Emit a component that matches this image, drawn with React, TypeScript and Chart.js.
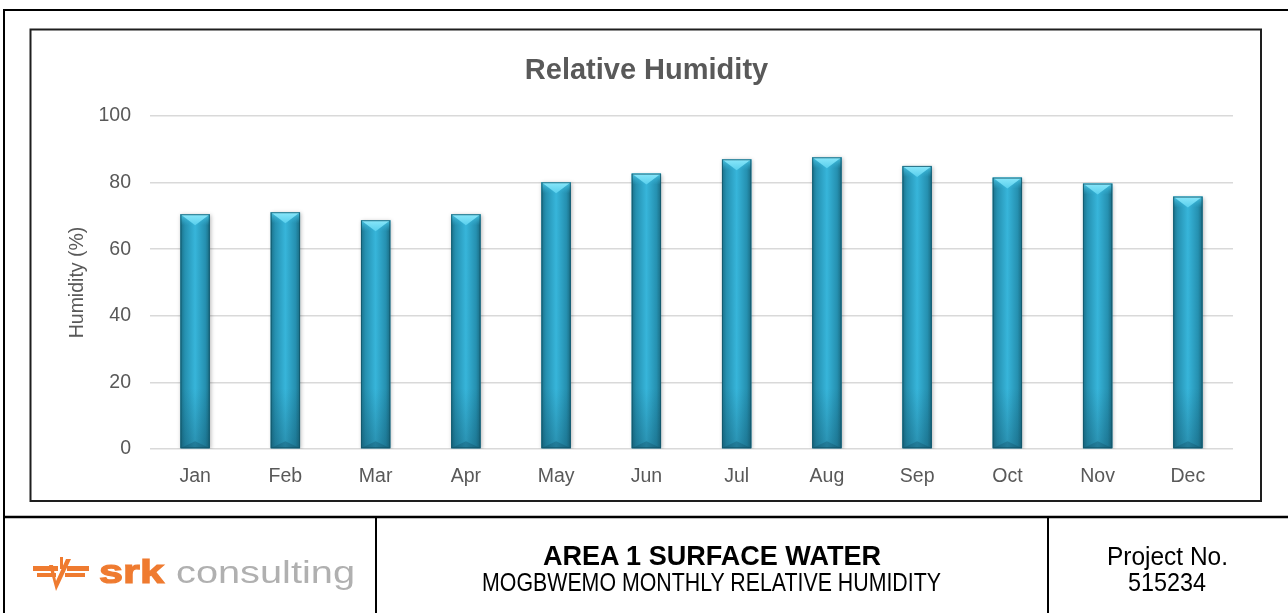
import React, { useEffect, useRef } from 'react';
import { Chart, registerables } from 'chart.js';

Chart.register(...registerables);

const months = ['Jan', 'Feb', 'Mar', 'Apr', 'May', 'Jun', 'Jul', 'Aug', 'Sep', 'Oct', 'Nov', 'Dec'];
const humidity = [70.5, 71.1, 68.7, 70.5, 80.1, 82.7, 87.0, 87.6, 85.0, 81.5, 79.7, 75.8];
const yMin = 0;
const yMax = 100;
const yStep = 20;

const chartTitle = 'Relative Humidity';
const yAxisTitle = 'Humidity (%)';
const footerTitle = 'AREA 1 SURFACE WATER';
const footerSubtitle = 'MOGBWEMO MONTHLY RELATIVE HUMIDITY';
const projectLabel = 'Project No.';
const projectNumber = '515234';
const logoBold = 'srk';
const logoLight = 'consulting';

const FONT = "'Liberation Sans', Arial, Helvetica, sans-serif";

const barDecor = {
  id: 'barDecor',
  beforeDatasetsDraw(chart: any) {
    const ctx = chart.ctx;
    ctx.save();
    ctx.shadowColor = 'rgba(0,0,0,0.28)';
    ctx.shadowBlur = 4;
    ctx.shadowOffsetX = 1;
    ctx.shadowOffsetY = 1;
  },
  afterDatasetsDraw(chart: any) {
    const ctx = chart.ctx;
    ctx.restore();
    const meta = chart.getDatasetMeta(0);
    meta.data.forEach((bar: any) => {
      const { x, y, base, width } = bar.getProps(['x', 'y', 'base', 'width'], true);
      const l = x - width / 2;
      const r = x + width / 2;
      const h = base - y;
      ctx.save();
      const g = ctx.createLinearGradient(l, 0, r, 0);
      g.addColorStop(0, '#1b7189');
      g.addColorStop(0.15, '#2590b0');
      g.addColorStop(0.5, '#37b5da');
      g.addColorStop(0.85, '#2590b0');
      g.addColorStop(1, '#1a6b82');
      ctx.fillStyle = g;
      ctx.fillRect(l, y, width, h);
      const gb = ctx.createLinearGradient(0, base - 60, 0, base);
      gb.addColorStop(0, 'rgba(10,60,80,0)');
      gb.addColorStop(1, 'rgba(10,60,80,0.3)');
      ctx.fillStyle = gb;
      ctx.fillRect(l, base - 60, width, 60);
      const bev = Math.min(11, h / 2);
      // upper side faces
      const gs = ctx.createLinearGradient(0, y, 0, y + bev);
      gs.addColorStop(0, 'rgba(80,205,235,0.9)');
      gs.addColorStop(1, 'rgba(55,181,218,0)');
      ctx.fillStyle = gs;
      ctx.fillRect(l, y, width, bev);
      // top bevel triangle
      ctx.beginPath();
      ctx.moveTo(l, y);
      ctx.lineTo(r, y);
      ctx.lineTo(x, y + bev);
      ctx.closePath();
      const gt = ctx.createLinearGradient(0, y, 0, y + bev);
      gt.addColorStop(0, '#8ae7fa');
      gt.addColorStop(1, '#58cfed');
      ctx.fillStyle = gt;
      ctx.fill();
      // bottom bevel
      ctx.beginPath();
      ctx.moveTo(l, base);
      ctx.lineTo(r, base);
      ctx.lineTo(x, base - 7);
      ctx.closePath();
      ctx.fillStyle = 'rgba(10,60,80,0.25)';
      ctx.fill();
      ctx.strokeStyle = 'rgba(18,85,105,0.8)';
      ctx.lineWidth = 1;
      ctx.strokeRect(l + 0.5, y + 0.5, width - 1, h - 1);
      ctx.restore();
    });
  },
};

function HumidityChart() {
  const ref = useRef<HTMLCanvasElement | null>(null);
  useEffect(() => {
    if (!ref.current) return;
    const chart = new Chart(ref.current, {
      type: 'bar',
      data: {
        labels: months,
        datasets: [
          {
            data: humidity,
            backgroundColor: '#2ba3c6',
            borderWidth: 0,
            categoryPercentage: 1,
            barPercentage: 0.325,
          },
        ],
      },
      options: {
        responsive: false,
        animation: false,
        layout: { padding: { left: 0, right: 27, top: 0, bottom: 0 } },
        plugins: {
          legend: { display: false },
          tooltip: { enabled: false },
          title: {
            display: true,
            text: chartTitle,
            color: '#595959',
            font: { family: FONT, size: 29, weight: 'bold' },
            padding: { top: 23.2, bottom: 28 },
          },
        },
        scales: {
          x: {
            grid: { display: false, drawTicks: false },
            border: { display: false },
            ticks: { color: '#595959', font: { family: FONT, size: 19.5 }, padding: 16 },
            afterFit: (s: any) => {
              s.height = 51;
            },
          },
          y: {
            min: yMin,
            max: yMax,
            ticks: { stepSize: yStep, color: '#595959', font: { family: FONT, size: 19.5 }, padding: 19 },
            grid: { color: '#d9d9d9', lineWidth: 1.6, drawTicks: false },
            border: { display: false },
            title: {
              display: true,
              text: yAxisTitle,
              color: '#595959',
              font: { family: FONT, size: 19.5 },
              padding: { top: 5.5, bottom: 0 },
            },
            afterFit: (s: any) => {
              s.width = 90;
            },
          },
        },
      },
      plugins: [barDecor],
    } as any);
    return () => chart.destroy();
  }, []);
  return (
    <canvas
      ref={ref}
      width={1200}
      height={470}
      style={{ position: 'absolute', left: 60, top: 30, width: 1200, height: 470 }}
    />
  );
}

export default function App() {
  return (
    <div style={{ position: 'absolute', left: 0, top: 0, width: 1288, height: 613, background: '#fff', overflow: 'hidden' }}>
      <HumidityChart />
      <svg width={1288} height={613} style={{ position: 'absolute', left: 0, top: 0, pointerEvents: 'none' }}>
        <rect x={4} y={10} width={1300} height={620} fill="none" stroke="#000" strokeWidth={2} />
        <rect x={30.5} y={29.5} width={1230.5} height={471.5} fill="none" stroke="#1e1e1e" strokeWidth={2} />
        <line x1={4} y1={517} x2={1288} y2={517} stroke="#000" strokeWidth={2.4} />
        <line x1={376} y1={517} x2={376} y2={613} stroke="#000" strokeWidth={2} />
        <line x1={1048} y1={517} x2={1048} y2={613} stroke="#000" strokeWidth={2} />
        <g fill="#ef7b30" stroke="none">
          <rect x={33} y={566} width={25} height={5} />
          <rect x={37} y={573} width={19} height={4} />
          <polygon points="49,565 56,591 71,559 66,559 56,581 53,565" />
          <rect x={60} y={557} width={3} height={12} />
          <rect x={67} y={566} width={22} height={5} />
          <rect x={65} y={573} width={20} height={4} />
        </g>
        <text x={99} y={583} fontFamily={FONT} fontWeight="bold" fontSize={34} fill="#ef7b30" stroke="#ef7b30" strokeWidth={1.2} textLength={65} lengthAdjust="spacingAndGlyphs">{logoBold}</text>
        <text x={176} y={583} fontFamily={FONT} fontSize={32} fill="#b0b0b0" textLength={179} lengthAdjust="spacingAndGlyphs">{logoLight}</text>
        <text x={712} y={565} textAnchor="middle" fontFamily={FONT} fontWeight="bold" fontSize={28} fill="#000" textLength={338} lengthAdjust="spacingAndGlyphs">{footerTitle}</text>
        <text x={711.5} y={591} textAnchor="middle" fontFamily={FONT} fontSize={25} fill="#000" textLength={459} lengthAdjust="spacingAndGlyphs">{footerSubtitle}</text>
        <text x={1167.5} y={565} textAnchor="middle" fontFamily={FONT} fontSize={25} fill="#000" textLength={121} lengthAdjust="spacingAndGlyphs">{projectLabel}</text>
        <text x={1167} y={591} textAnchor="middle" fontFamily={FONT} fontSize={25} fill="#000" textLength={78} lengthAdjust="spacingAndGlyphs">{projectNumber}</text>
      </svg>
    </div>
  );
}
